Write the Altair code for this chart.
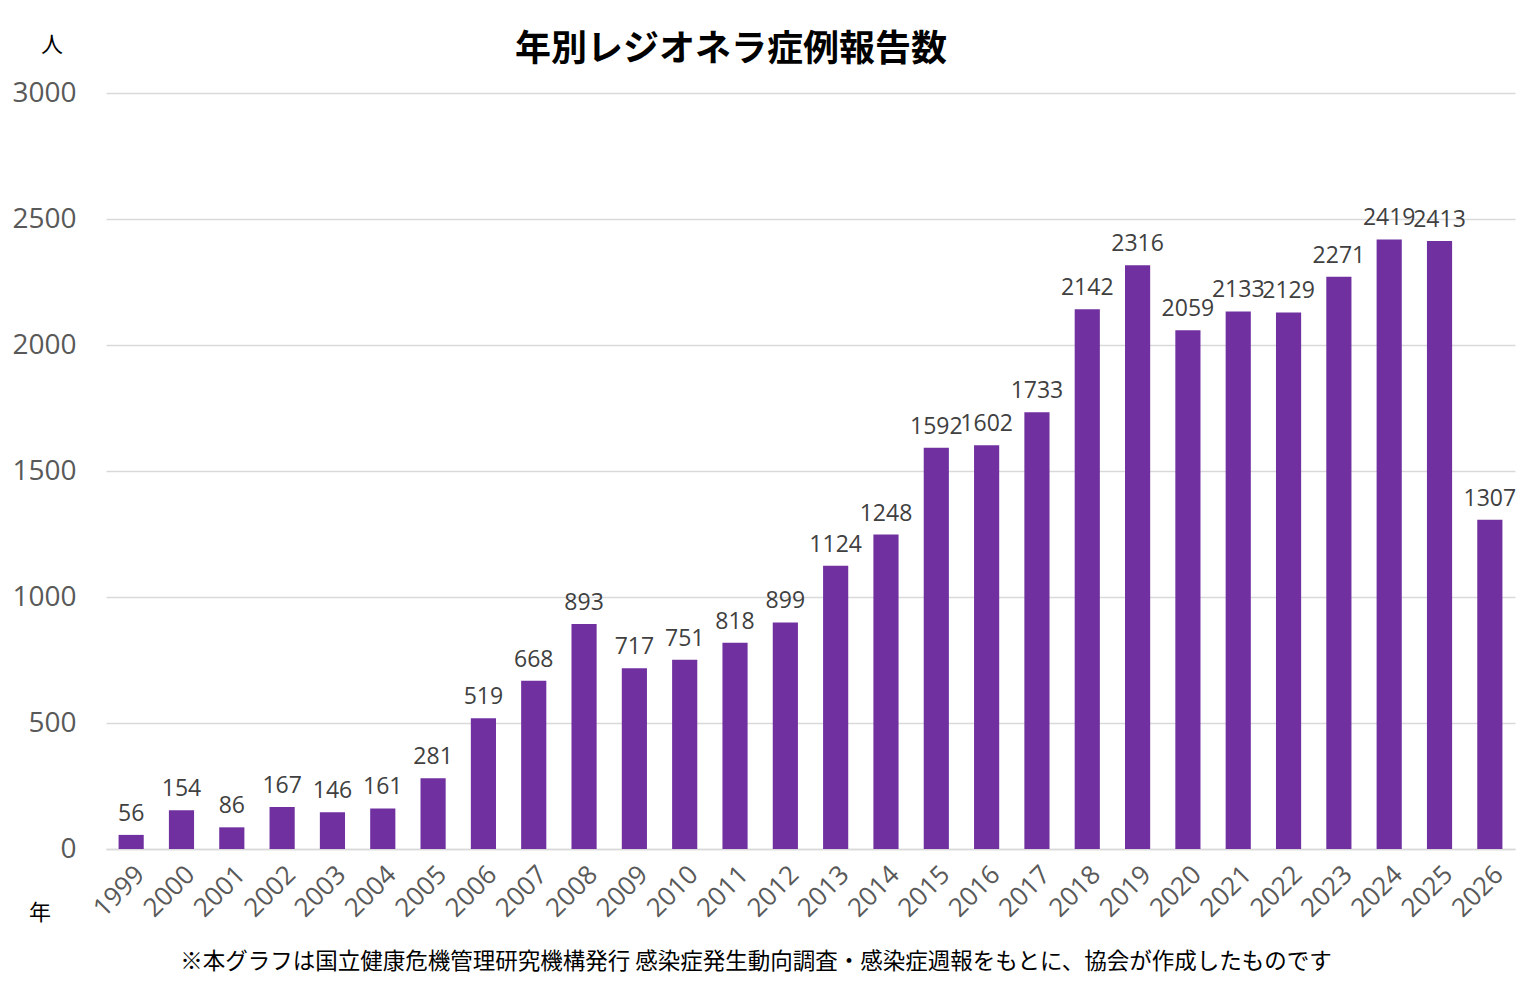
import altair as alt
import pandas as pd

years = [str(y) for y in range(1999, 2027)]
cases = [56, 154, 86, 167, 146, 161, 281, 519, 668, 893, 717, 751, 818, 899,
         1124, 1248, 1592, 1602, 1733, 2142, 2316, 2059, 2133, 2129, 2271,
         2419, 2413, 1307]
y_ticks = [0, 500, 1000, 1500, 2000, 2500, 3000]

title_text = "年別レジオネラ症例報告数"
y_unit = "人"
x_unit = "年"
footnote = "※本グラフは国立健康危機管理研究機構発行 感染症発生動向調査・感染症週報をもとに、協会が作成したものです"

df = pd.DataFrame({"year": years, "cases": cases})

W, H = 1409, 756
NUM_FONT = "Open Sans"
JP_FONT = "Noto Sans CJK JP"

x_enc = alt.X("year:N", sort=years, title=None,
              scale=alt.Scale(paddingInner=0.5, paddingOuter=0.25),
              axis=alt.Axis(labelAngle=-45, labelFontSize=26, labelFont=NUM_FONT,
                            labelColor="#595959", labelPadding=12, ticks=False,
                            grid=False,
                            domain=True, domainColor="#d9d9d9", domainWidth=1.5,
                            labelAlign="right", labelBaseline="top"))
y_enc = alt.Y("cases:Q", title=None,
              scale=alt.Scale(domain=[0, 3000], nice=False),
              axis=alt.Axis(values=y_ticks, format="d", labelFontSize=28, labelFont=NUM_FONT,
                            labelColor="#595959", labelPadding=30, ticks=False,
                            domain=False, gridColor="#d9d9d9", gridWidth=1.5))

base = alt.Chart(df).encode(x=x_enc, y=y_enc)
bars = base.mark_bar(color="#7030A0")
labels = base.mark_text(baseline="bottom", dy=-9, fontSize=23, font=NUM_FONT,
                        color="#404040").encode(text="cases:Q")

ann = pd.DataFrame({"t": [0]})
def note(text, x, y, size, weight="normal", color="#000000"):
    return alt.Chart(ann).mark_text(text=text, fontSize=size, font=JP_FONT,
                                    fontWeight=weight, color=color,
                                    align="center", baseline="middle").encode(
        x=alt.value(x), y=alt.value(y))

title_mark = note(title_text, 625, -43, 36, "bold")
yunit_mark = note(y_unit, -54, -48, 22)
xunit_mark = note(x_unit, -66, 820, 22)
foot_mark = note(footnote, 650, 869, 22.5)

chart = alt.layer(bars, labels, title_mark, yunit_mark, xunit_mark, foot_mark).properties(
    width=W, height=H,
    background="white",
    autosize=alt.AutoSizeParams(type="none"),
    padding={"left": 98, "top": 85, "right": 6, "bottom": 128},
).configure_view(stroke=None)

chart.save("out.html", embed_options={"renderer": "svg", "actions": False})
